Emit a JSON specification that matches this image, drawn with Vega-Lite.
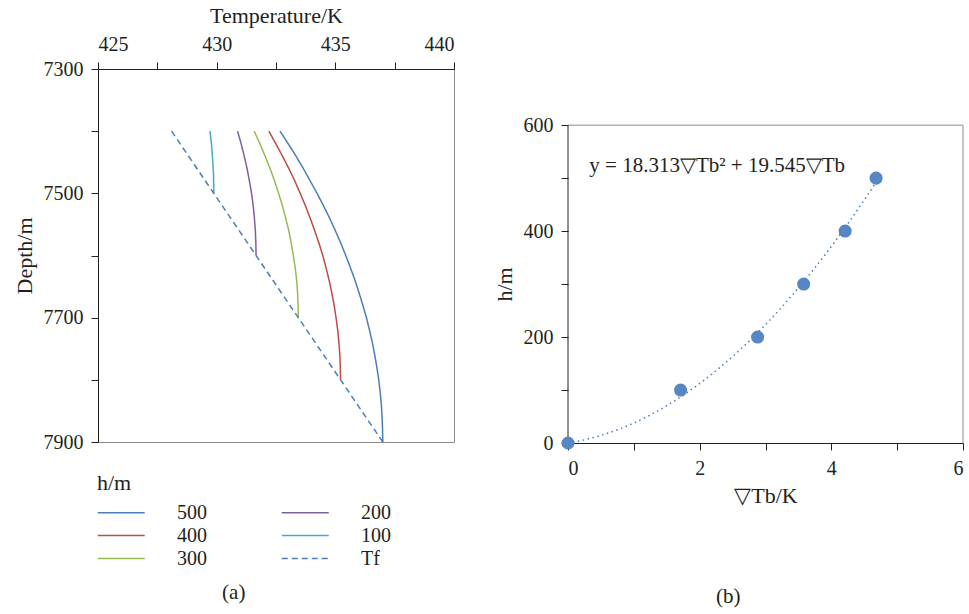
{
  "$schema": "https://vega.github.io/schema/vega-lite/v6.json",
  "background": "white",
  "padding": {"left": 12, "top": 3, "right": 5, "bottom": 5},
  "bounds": "flush",
  "spacing": 114,
  "config": {
    "font": "Liberation Serif",
    "axis": {"labelFontSize": 20, "titleFontSize": 22, "titleFontWeight": "normal", "labelColor": "#231f20", "titleColor": "#231f20", "tickColor": "#231f20", "domainColor": "#231f20", "grid": false, "tickSize": 7, "labelPadding": 8},
    "legend": {"labelFontSize": 20, "titleFontSize": 22, "titleFontWeight": "normal", "labelColor": "#231f20", "titleColor": "#231f20"},
    "title": {"fontSize": 21, "fontWeight": "normal", "color": "#231f20"}
  },
  "hconcat": [
    {
      "width": 356,
      "height": 373,
      "view": {"stroke": "#8c8c8c"},
      "title": {"text": "(a)", "orient": "bottom", "frame": "bounds", "anchor": "middle", "offset": 130},
      "data": {"values": [
        {"h": "500", "T": 432.67, "depth": 7400}, {"h": "500", "T": 433.01, "depth": 7420}, {"h": "500", "T": 433.34, "depth": 7440}, {"h": "500", "T": 433.65, "depth": 7460}, {"h": "500", "T": 433.94, "depth": 7480}, {"h": "500", "T": 434.23, "depth": 7500}, {"h": "500", "T": 434.50, "depth": 7520}, {"h": "500", "T": 434.76, "depth": 7540}, {"h": "500", "T": 435.00, "depth": 7560}, {"h": "500", "T": 435.23, "depth": 7580}, {"h": "500", "T": 435.44, "depth": 7600}, {"h": "500", "T": 435.64, "depth": 7620}, {"h": "500", "T": 435.83, "depth": 7640}, {"h": "500", "T": 436.00, "depth": 7660}, {"h": "500", "T": 436.16, "depth": 7680}, {"h": "500", "T": 436.31, "depth": 7700}, {"h": "500", "T": 436.44, "depth": 7720}, {"h": "500", "T": 436.56, "depth": 7740}, {"h": "500", "T": 436.66, "depth": 7760}, {"h": "500", "T": 436.75, "depth": 7780}, {"h": "500", "T": 436.83, "depth": 7800}, {"h": "500", "T": 436.89, "depth": 7820}, {"h": "500", "T": 436.94, "depth": 7840}, {"h": "500", "T": 436.97, "depth": 7860}, {"h": "500", "T": 436.99, "depth": 7880}, {"h": "500", "T": 437.00, "depth": 7900},
        {"h": "400", "T": 432.20, "depth": 7400}, {"h": "400", "T": 432.49, "depth": 7420}, {"h": "400", "T": 432.77, "depth": 7440}, {"h": "400", "T": 433.04, "depth": 7460}, {"h": "400", "T": 433.29, "depth": 7480}, {"h": "400", "T": 433.52, "depth": 7500}, {"h": "400", "T": 433.74, "depth": 7520}, {"h": "400", "T": 433.94, "depth": 7540}, {"h": "400", "T": 434.13, "depth": 7560}, {"h": "400", "T": 434.31, "depth": 7580}, {"h": "400", "T": 434.47, "depth": 7600}, {"h": "400", "T": 434.61, "depth": 7620}, {"h": "400", "T": 434.74, "depth": 7640}, {"h": "400", "T": 434.85, "depth": 7660}, {"h": "400", "T": 434.95, "depth": 7680}, {"h": "400", "T": 435.03, "depth": 7700}, {"h": "400", "T": 435.10, "depth": 7720}, {"h": "400", "T": 435.15, "depth": 7740}, {"h": "400", "T": 435.19, "depth": 7760}, {"h": "400", "T": 435.21, "depth": 7780}, {"h": "400", "T": 435.22, "depth": 7800},
        {"h": "300", "T": 431.58, "depth": 7400}, {"h": "300", "T": 431.82, "depth": 7420}, {"h": "300", "T": 432.04, "depth": 7440}, {"h": "300", "T": 432.25, "depth": 7460}, {"h": "300", "T": 432.44, "depth": 7480}, {"h": "300", "T": 432.61, "depth": 7500}, {"h": "300", "T": 432.77, "depth": 7520}, {"h": "300", "T": 432.91, "depth": 7540}, {"h": "300", "T": 433.04, "depth": 7560}, {"h": "300", "T": 433.14, "depth": 7580}, {"h": "300", "T": 433.23, "depth": 7600}, {"h": "300", "T": 433.31, "depth": 7620}, {"h": "300", "T": 433.37, "depth": 7640}, {"h": "300", "T": 433.41, "depth": 7660}, {"h": "300", "T": 433.43, "depth": 7680}, {"h": "300", "T": 433.44, "depth": 7700},
        {"h": "200", "T": 430.88, "depth": 7400}, {"h": "200", "T": 431.03, "depth": 7420}, {"h": "200", "T": 431.16, "depth": 7440}, {"h": "200", "T": 431.28, "depth": 7460}, {"h": "200", "T": 431.38, "depth": 7480}, {"h": "200", "T": 431.47, "depth": 7500}, {"h": "200", "T": 431.54, "depth": 7520}, {"h": "200", "T": 431.59, "depth": 7540}, {"h": "200", "T": 431.63, "depth": 7560}, {"h": "200", "T": 431.65, "depth": 7580}, {"h": "200", "T": 431.66, "depth": 7600},
        {"h": "100", "T": 429.72, "depth": 7400}, {"h": "100", "T": 429.75, "depth": 7410}, {"h": "100", "T": 429.78, "depth": 7420}, {"h": "100", "T": 429.80, "depth": 7430}, {"h": "100", "T": 429.82, "depth": 7440}, {"h": "100", "T": 429.84, "depth": 7450}, {"h": "100", "T": 429.85, "depth": 7460}, {"h": "100", "T": 429.87, "depth": 7470}, {"h": "100", "T": 429.87, "depth": 7480}, {"h": "100", "T": 429.88, "depth": 7490}, {"h": "100", "T": 429.88, "depth": 7500},
        {"h": "Tf", "T": 428.10, "depth": 7400}, {"h": "Tf", "T": 437.00, "depth": 7900}
      ]},
      "mark": {"type": "line", "strokeWidth": 1.5},
      "encoding": {
        "x": {"field": "T", "type": "quantitative",
          "scale": {"domain": [425, 440], "nice": false, "zero": false},
          "axis": {"orient": "top", "title": "Temperature/K", "values": [425, 427.5, 430, 432.5, 435, 437.5, 440], "labelExpr": "datum.value % 5 === 0 ? format(datum.value, 'd') : ''", "titlePadding": 7}},
        "y": {"field": "depth", "type": "quantitative",
          "scale": {"domain": [7300, 7900], "reverse": true, "nice": false, "zero": false},
          "axis": {"title": "Depth/m", "values": [7300, 7400, 7500, 7600, 7700, 7800, 7900], "labelExpr": "datum.value % 200 === 100 ? format(datum.value, 'd') : ''", "titlePadding": 7}},
        "color": {"field": "h", "type": "nominal",
          "scale": {"domain": ["500", "400", "300", "200", "100", "Tf"], "range": ["#4a7ebb", "#be4b48", "#98b954", "#7d60a0", "#46aac5", "#4a7ebb"]},
          "legend": {"title": "h/m", "orient": "none", "legendX": -1, "legendY": 404, "columns": 2, "symbolType": "M-1,0H3", "symbolSize": 552, "symbolStrokeWidth": 1.5, "labelOffset": 55, "columnPadding": 71, "rowPadding": 0, "titlePadding": 5}},
        "strokeDash": {"field": "h", "type": "nominal",
          "scale": {"domain": ["500", "400", "300", "200", "100", "Tf"], "range": [[1, 0], [1, 0], [1, 0], [1, 0], [1, 0], [6, 4]]},
          "legend": {"title": "h/m", "orient": "none", "legendX": -1, "legendY": 404, "columns": 2, "symbolType": "M-1,0H3", "symbolSize": 552, "symbolStrokeWidth": 1.5, "labelOffset": 55, "columnPadding": 71, "rowPadding": 0, "titlePadding": 5}},
        "order": {"field": "depth", "type": "quantitative"}
      }
    },
    {
      "width": 395,
      "height": 374,
      "view": {"stroke": null},
      "title": {"text": "(b)", "orient": "bottom", "frame": "bounds", "anchor": "middle", "offset": 80},
      "layer": [
        {
          "data": {"values": [{}]},
          "mark": {"type": "rule", "color": "#8c8c8c", "strokeWidth": 1},
          "encoding": {"x": {"datum": 0, "type": "quantitative"}, "x2": {"datum": 6}, "y": {"datum": 600, "type": "quantitative"}}
        },
        {
          "data": {"values": [{}]},
          "mark": {"type": "rule", "color": "#8c8c8c", "strokeWidth": 1},
          "encoding": {"x": {"datum": 6, "type": "quantitative"}, "y": {"datum": 0, "type": "quantitative"}, "y2": {"datum": 600}}
        },
        {
          "data": {"values": [{}]},
          "mark": {"type": "rule", "color": "#231f20", "strokeWidth": 1},
          "encoding": {"x": {"datum": 0, "type": "quantitative"}, "y": {"datum": 0, "type": "quantitative"}, "y2": {"datum": 600}}
        },
        {
          "data": {"values": [
            {"dTb": 0, "hm": 0}, {"dTb": 0.25, "hm": 6.03}, {"dTb": 0.5, "hm": 14.35}, {"dTb": 0.75, "hm": 24.96}, {"dTb": 1.0, "hm": 37.86}, {"dTb": 1.25, "hm": 53.05}, {"dTb": 1.5, "hm": 70.52}, {"dTb": 1.75, "hm": 90.29}, {"dTb": 2.0, "hm": 112.34}, {"dTb": 2.25, "hm": 136.69}, {"dTb": 2.5, "hm": 163.32}, {"dTb": 2.75, "hm": 192.24}, {"dTb": 3.0, "hm": 223.45}, {"dTb": 3.25, "hm": 256.95}, {"dTb": 3.5, "hm": 292.74}, {"dTb": 3.75, "hm": 330.82}, {"dTb": 4.0, "hm": 371.19}, {"dTb": 4.25, "hm": 413.84}, {"dTb": 4.5, "hm": 458.79}, {"dTb": 4.7, "hm": 496.4}
          ]},
          "mark": {"type": "line", "color": "#4a7ebb", "strokeWidth": 1.5, "strokeDash": [1.5, 3.5], "interpolate": "monotone"},
          "encoding": {
            "x": {"field": "dTb", "type": "quantitative", "scale": {"domain": [0, 6], "nice": false},
              "axis": {"title": "▽Tb/K", "values": [0, 1, 2, 3, 4, 5, 6], "labelExpr": "datum.value % 2 === 0 ? format(datum.value, 'd') : ''", "labelPadding": 8, "titlePadding": 7}},
            "y": {"field": "hm", "type": "quantitative", "scale": {"domain": [0, 706], "nice": false},
              "axis": {"title": "h/m", "domain": false, "values": [0, 100, 200, 300, 400, 500, 600], "labelExpr": "datum.value % 200 === 0 ? format(datum.value, 'd') : ''", "titleY": 215, "titlePadding": 7}}
          }
        },
        {
          "data": {"values": [
            {"dTb": 0, "hm": 0}, {"dTb": 1.71, "hm": 100}, {"dTb": 2.88, "hm": 200}, {"dTb": 3.58, "hm": 300}, {"dTb": 4.21, "hm": 400}, {"dTb": 4.68, "hm": 500}
          ]},
          "mark": {"type": "circle", "color": "#5686c4", "opacity": 1, "size": 170},
          "encoding": {
            "x": {"field": "dTb", "type": "quantitative"},
            "y": {"field": "hm", "type": "quantitative"}
          }
        },
        {
          "data": {"values": [{"label": "y = 18.313▽Tb² + 19.545▽Tb"}]},
          "mark": {"type": "text", "align": "left", "baseline": "middle", "fontSize": 21, "color": "#231f20"},
          "encoding": {
            "x": {"datum": 0.324, "type": "quantitative"},
            "y": {"datum": 523, "type": "quantitative"},
            "text": {"field": "label"}
          }
        }
      ]
    }
  ]
}
